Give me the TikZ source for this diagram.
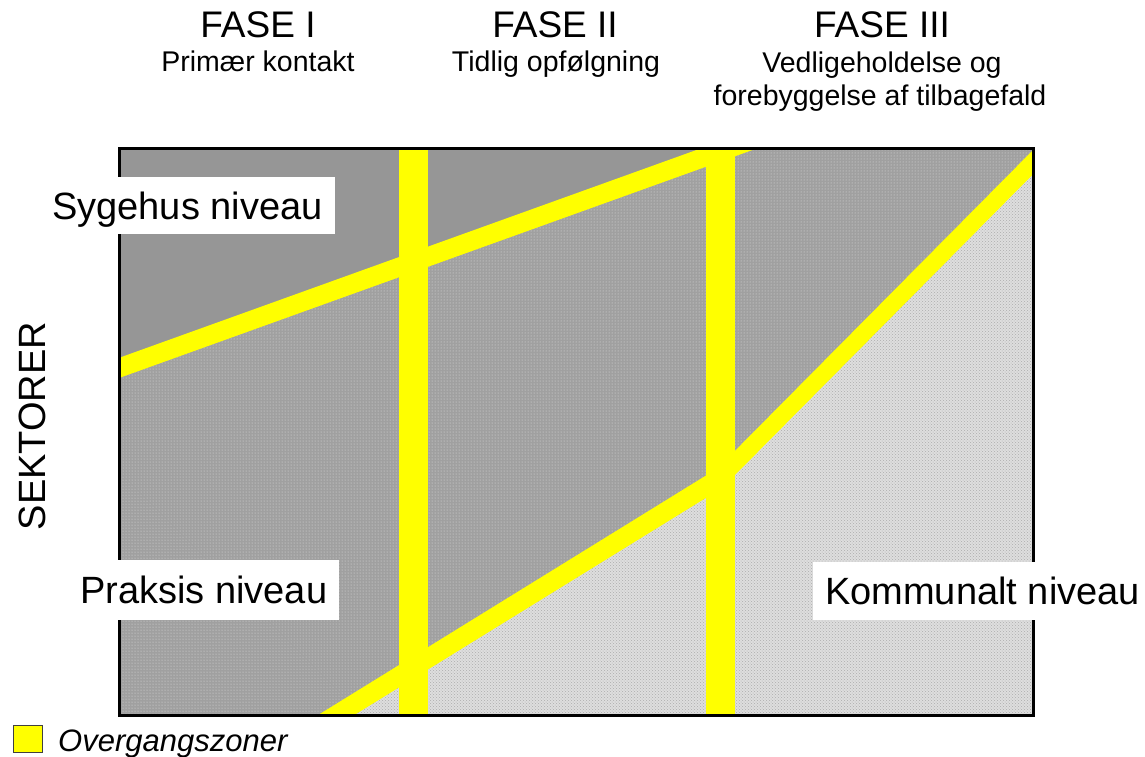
\documentclass[tikz,border=0pt]{standalone}
\usepackage{fontspec}
\setmainfont{Liberation Sans}
\usetikzlibrary{patterns}
\definecolor{zone}{RGB}{255,255,0}
\definecolor{hospfill}{RGB}{150,150,150}
\definecolor{praksfill}{RGB}{160,160,160}
\definecolor{praksdot}{RGB}{225,225,225}
\definecolor{komfill}{RGB}{222,222,222}
\definecolor{komdot}{RGB}{172,172,172}
\tikzset{
  band/.style={zone, line width=#1},
  bar/.style={zone, line width=29},
  head/.style={inner sep=0, anchor=base, font=\fontsize{37}{40}\selectfont},
  sub/.style={inner sep=0, anchor=base, font=\fontsize{28.5}{32}\selectfont},
  lvl/.style={fill=white, inner xsep=12, inner ysep=0, text height=27, text depth=0,
              font=\fontsize{38}{40}\selectfont},
}
\begin{document}
\begin{tikzpicture}[x=1pt,y=-1pt]
\useasboundingbox (0,0) rectangle (1145,756);
% frame corners
\coordinate (tl) at (119,148);
\coordinate (br) at (1033,715);
% band points
\coordinate (b1s) at (100,374.8);
\coordinate (b1e) at (760,137.2);
\coordinate (b2s) at (320,725);
\coordinate (bk) at (720,478);
\coordinate (b3e) at (1050,145);
\begin{scope}
  \clip (tl) rectangle (br);
  \fill[praksfill] (tl) rectangle (br);
  \fill[pattern=dots, pattern color=praksdot] (tl) rectangle (br);
  \fill[hospfill] (119,148) -- (119,368) -- (730,148) -- cycle;
  \fill[komfill] (b2s) -- (bk) -- (b3e) -- (1050,725) -- cycle;
  \fill[pattern=crosshatch dots, pattern color=komdot] (b2s) -- (bk) -- (b3e) -- (1050,725) -- cycle;
  \draw[band=19] (b1s) -- (b1e);
  \draw[band=19] (b2s) -- (bk);
  \draw[band=17] (bk) -- (b3e);
  \draw[bar] (413.5,140) -- (413.5,720);
  \draw[bar] (720.5,140) -- (720.5,720);
\end{scope}
\draw[line width=3] (tl) rectangle (br);
% level labels
\node[lvl, anchor=west, minimum height=57] (syg) at (40,205.5) {Sygehus niveau};
\node[lvl, anchor=west, minimum height=60] (prak) at (68,590) {Praksis niveau};
\node[lvl, anchor=west, minimum height=58] (komm) at (813,591) {Kommunalt niveau};
% headers
\node[head] (f1) at (258,37) {FASE I};
\node[sub] (s1) at (258,71) {Primær kontakt};
\node[head] (f2) at (555,37) {FASE II};
\node[sub] (s2) at (556,71) {Tidlig opfølgning};
\node[head] (f3) at (882,37) {FASE III};
\node[sub] (s3a) at (882,72) {Vedligeholdelse og};
\node[sub] (s3b) at (880,105) {forebyggelse af tilbagefald};
% sector axis
\node[inner sep=0, rotate=90, font=\fontsize{38}{40}\selectfont] (sek) at (32,426) {SEKTORER};
% legend
\node[draw=black!75, line width=1, fill=zone, minimum width=29, minimum height=27, inner sep=0] (leg) at (28,739) {};
\node[inner sep=0, anchor=base west, font=\fontsize{31}{34}\selectfont\itshape] (legt) at (58,751) {Overgangszoner};
\end{tikzpicture}
\end{document}
